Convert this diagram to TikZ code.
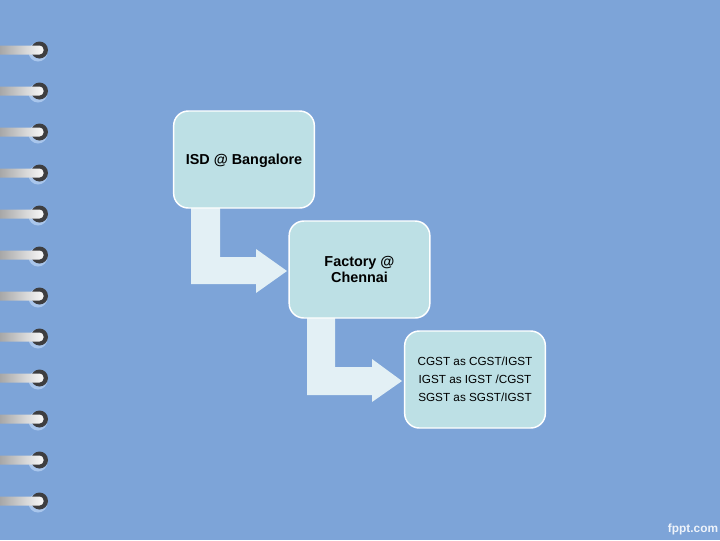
\documentclass[tikz,border=0pt]{standalone}
\usepackage{fontspec}
\setmainfont{Liberation Sans}
\definecolor{bgblue}{HTML}{7DA4D8}
\definecolor{boxfill}{HTML}{BDE0E5}
\definecolor{arrowfill}{HTML}{E3F0F5}
\definecolor{ringdark}{HTML}{3E3E40}
\definecolor{halo}{HTML}{A9C6EC}
\definecolor{logotext}{HTML}{EEF3FA}
\tikzset{
  stagebox/.style={draw=white, line width=1.1pt, fill=boxfill, rounded corners=11pt,
    minimum width=105.5pt, minimum height=72.75pt, align=center, inner sep=2pt},
  bentarrow/.style={fill=arrowfill, draw=none},
  boldlabel/.style={font=\fontsize{10.8pt}{12.6pt}\selectfont\bfseries},
  plainlabel/.style={font=\fontsize{8.8pt}{13.5pt}\selectfont},
}
\begin{document}
\begin{tikzpicture}[x=0.75pt,y=-0.75pt]
\useasboundingbox (0,0) rectangle (720,540);
\fill[bgblue] (0,0) rectangle (720,540);
% spiral binding
\foreach \k in {0,...,11}{
  \pgfmathsetmacro{\yy}{50+41*\k}
  \fill[halo] (38,\yy+2) circle[radius=9.5];
  \fill[ringdark] (39.5,\yy) circle[radius=8.5];
  \shade[left color=gray!75, right color=white!95!gray, rounded corners=3pt]
    (-4,\yy-4.5) rectangle (43.5,\yy+4.5);
}
% bent arrows
\path[bentarrow] (191,207) -- (220,207) -- (220,257) -- (256,257) -- (256,249)
  -- (287,271) -- (256,293) -- (256,284) -- (191,284) -- cycle;
\path[bentarrow] (307,317) -- (335,317) -- (335,367) -- (372,367) -- (372,359)
  -- (402,381) -- (372,402) -- (372,395) -- (307,395) -- cycle;
% boxes
\node[stagebox, boldlabel, text depth=0pt] (isd) at (244,159.5) {ISD @ Bangalore};
\node[stagebox, boldlabel] (factory) at (359.5,269.5) {Factory @\\Chennai};
\node[stagebox, plainlabel] (taxes) at (475,379.5) {CGST as CGST/IGST\\IGST as IGST /CGST\\SGST as SGST/IGST};
% logo
\node[text=logotext, font=\fontsize{8.9pt}{10pt}\selectfont\bfseries] (logo) at (693,529) {fppt.com};
\end{tikzpicture}
\end{document}
